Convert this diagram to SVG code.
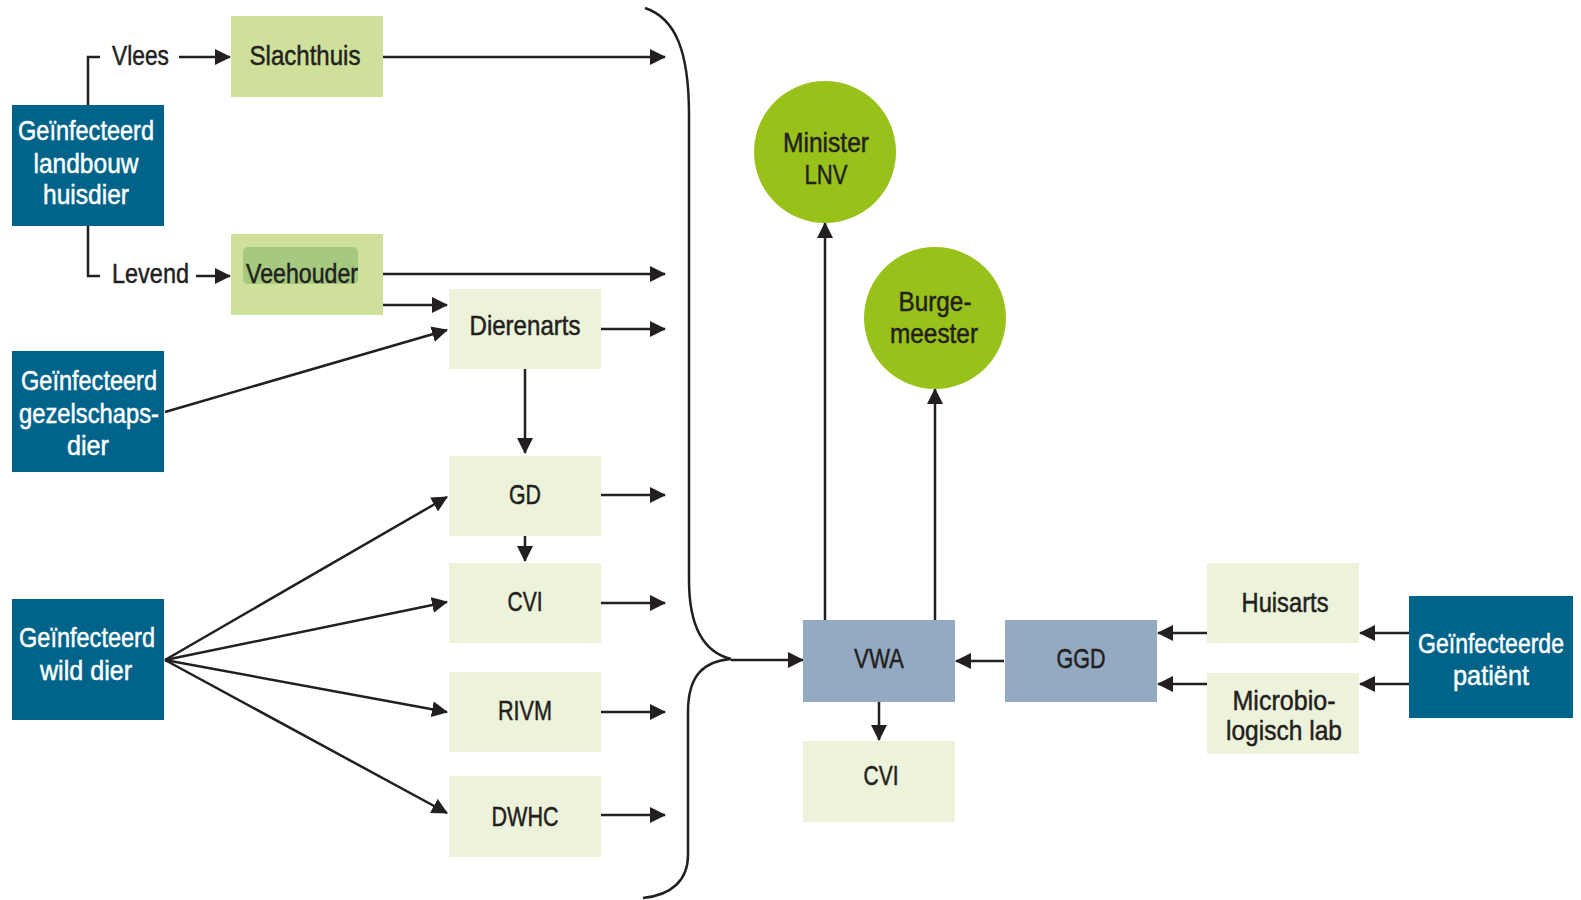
<svg xmlns="http://www.w3.org/2000/svg" width="1581" height="900" viewBox="0 0 1581 900">
<defs>
<style>
.t{font-family:"Liberation Sans",Arial,sans-serif;font-size:28px;fill:#231f20;stroke:#231f20;stroke-width:0.5;text-anchor:middle}
.w{fill:#ffffff;stroke:#ffffff}
.s{text-anchor:start}
.teal{fill:#00648a}
.lg{fill:#cfe09b}
.pg{fill:#edf2da}
.bg{fill:#94aac2}
.ci{fill:#98c11a}
.ln{fill:none;stroke:#231f20;stroke-width:2.5}
.ar{marker-end:url(#ah)}
</style>
<marker id="ah" markerUnits="userSpaceOnUse" markerWidth="16" markerHeight="16" refX="15" refY="8" orient="auto">
<path d="M0,0 L16,8 L0,16 z" fill="#231f20"/>
</marker>
</defs>
<rect width="1581" height="900" fill="#ffffff"/>

<g id="connectors">
<path class="ln" d="M88,105 V57 H100"/>
<path class="ln" d="M88,226 V276 H100"/>
<line class="ln ar" x1="179" y1="57" x2="230" y2="57"/>
<line class="ln ar" x1="196" y1="276" x2="230" y2="276"/>
<line class="ln ar" x1="383" y1="57" x2="665" y2="57"/>
<line class="ln ar" x1="383" y1="274" x2="665" y2="274"/>
<line class="ln ar" x1="383" y1="305" x2="447" y2="305"/>
<line class="ln ar" x1="165" y1="412" x2="447" y2="330"/>
<line class="ln ar" x1="601" y1="329" x2="665" y2="329"/>
<line class="ln ar" x1="525" y1="369" x2="525" y2="453"/>
<line class="ln ar" x1="601" y1="495" x2="665" y2="495"/>
<line class="ln ar" x1="525" y1="536" x2="525" y2="561"/>
<line class="ln ar" x1="601" y1="603" x2="665" y2="603"/>
<line class="ln ar" x1="601" y1="712" x2="665" y2="712"/>
<line class="ln ar" x1="601" y1="815" x2="665" y2="815"/>
<line class="ln ar" x1="165" y1="660" x2="447" y2="497"/>
<line class="ln ar" x1="165" y1="660" x2="447" y2="602"/>
<line class="ln ar" x1="165" y1="660" x2="447" y2="712"/>
<line class="ln ar" x1="165" y1="660" x2="447" y2="813"/>
<path class="ln" d="M645,8 C675,18 689,50 689,115 L689,580 C689,625 703,652 731,659"/>
<path class="ln" d="M731,659 C704,661 688,675 688,712 L688,855 C688,880 672,895 643,898"/>
<line class="ln ar" x1="731" y1="660" x2="803" y2="660"/>
<line class="ln ar" x1="825" y1="620" x2="825" y2="223"/>
<line class="ln ar" x1="935" y1="620" x2="935" y2="389"/>
<line class="ln ar" x1="879" y1="702" x2="879" y2="740"/>
<line class="ln ar" x1="1004" y1="661" x2="956" y2="661"/>
<line class="ln ar" x1="1207" y1="633" x2="1158" y2="633"/>
<line class="ln ar" x1="1207" y1="684" x2="1158" y2="684"/>
<line class="ln ar" x1="1409" y1="633" x2="1360" y2="633"/>
<line class="ln ar" x1="1409" y1="684" x2="1360" y2="684"/>
</g>

<text class="t s" x="112" y="65" textLength="57" lengthAdjust="spacingAndGlyphs">Vlees</text>
<text class="t s" x="112" y="283" textLength="77" lengthAdjust="spacingAndGlyphs">Levend</text>

<g id="landbouw">
<rect class="teal" x="12" y="105" width="152" height="121"/>
<text class="t w" x="86" y="140" textLength="136" lengthAdjust="spacingAndGlyphs">Geïnfecteerd</text>
<text class="t w" x="86" y="173" textLength="105" lengthAdjust="spacingAndGlyphs">landbouw</text>
<text class="t w" x="86" y="204" textLength="86" lengthAdjust="spacingAndGlyphs">huisdier</text>
</g>
<g id="gezelschap">
<rect class="teal" x="12" y="351" width="152" height="121"/>
<text class="t w" x="89" y="390" textLength="136" lengthAdjust="spacingAndGlyphs">Geïnfecteerd</text>
<text class="t w" x="89" y="423" textLength="140" lengthAdjust="spacingAndGlyphs">gezelschaps-</text>
<text class="t w" x="88" y="455" textLength="42" lengthAdjust="spacingAndGlyphs">dier</text>
</g>
<g id="wilddier">
<rect class="teal" x="12" y="599" width="152" height="121"/>
<text class="t w" x="87" y="647" textLength="136" lengthAdjust="spacingAndGlyphs">Geïnfecteerd</text>
<text class="t w" x="86" y="680" textLength="92" lengthAdjust="spacingAndGlyphs">wild dier</text>
</g>
<g id="slachthuis">
<rect class="lg" x="231" y="16" width="152" height="81"/>
<text class="t" x="305" y="65" textLength="111" lengthAdjust="spacingAndGlyphs">Slachthuis</text>
</g>
<g id="veehouder">
<rect class="lg" x="231" y="234" width="152" height="81"/>
<rect x="243" y="247" width="115" height="37" rx="5" fill="#a5c97e"/>
<text class="t" x="302" y="283" textLength="112" lengthAdjust="spacingAndGlyphs">Veehouder</text>
</g>
<g id="dierenarts">
<rect class="pg" x="449" y="289" width="152" height="80"/>
<text class="t" x="525" y="335" textLength="111" lengthAdjust="spacingAndGlyphs">Dierenarts</text>
</g>
<g id="gd">
<rect class="pg" x="449" y="456" width="152" height="80"/>
<text class="t" x="525" y="504" textLength="32" lengthAdjust="spacingAndGlyphs">GD</text>
</g>
<g id="cvi1">
<rect class="pg" x="449" y="563" width="152" height="80"/>
<text class="t" x="525" y="611" textLength="35" lengthAdjust="spacingAndGlyphs">CVI</text>
</g>
<g id="rivm">
<rect class="pg" x="449" y="672" width="152" height="80"/>
<text class="t" x="525" y="720" textLength="54" lengthAdjust="spacingAndGlyphs">RIVM</text>
</g>
<g id="dwhc">
<rect class="pg" x="449" y="776" width="152" height="81"/>
<text class="t" x="525" y="826" textLength="67" lengthAdjust="spacingAndGlyphs">DWHC</text>
</g>
<g id="minister">
<circle class="ci" cx="825" cy="152" r="71"/>
<text class="t" x="826" y="152" textLength="86" lengthAdjust="spacingAndGlyphs">Minister</text>
<text class="t" x="826" y="184" textLength="43" lengthAdjust="spacingAndGlyphs">LNV</text>
</g>
<g id="burgemeester">
<circle class="ci" cx="935" cy="318" r="71"/>
<text class="t" x="935" y="311" textLength="73" lengthAdjust="spacingAndGlyphs">Burge-</text>
<text class="t" x="934" y="343" textLength="88" lengthAdjust="spacingAndGlyphs">meester</text>
</g>
<g id="vwa">
<rect class="bg" x="803" y="620" width="152" height="82"/>
<text class="t" x="879" y="668" textLength="50" lengthAdjust="spacingAndGlyphs">VWA</text>
</g>
<g id="cvi2">
<rect class="pg" x="803" y="741" width="152" height="81"/>
<text class="t" x="881" y="785" textLength="35" lengthAdjust="spacingAndGlyphs">CVI</text>
</g>
<g id="ggd">
<rect class="bg" x="1005" y="620" width="152" height="82"/>
<text class="t" x="1081" y="668" textLength="49" lengthAdjust="spacingAndGlyphs">GGD</text>
</g>
<g id="huisarts">
<rect class="pg" x="1207" y="563" width="152" height="80"/>
<text class="t" x="1285" y="612" textLength="87" lengthAdjust="spacingAndGlyphs">Huisarts</text>
</g>
<g id="microbio">
<rect class="pg" x="1207" y="673" width="152" height="81"/>
<text class="t" x="1284" y="710" textLength="103" lengthAdjust="spacingAndGlyphs">Microbio-</text>
<text class="t" x="1284" y="740" textLength="116" lengthAdjust="spacingAndGlyphs">logisch lab</text>
</g>
<g id="patient">
<rect class="teal" x="1409" y="596" width="164" height="122"/>
<text class="t w" x="1491" y="653" textLength="146" lengthAdjust="spacingAndGlyphs">Geïnfecteerde</text>
<text class="t w" x="1491" y="685" textLength="76" lengthAdjust="spacingAndGlyphs">patiënt</text>
</g>
</svg>
